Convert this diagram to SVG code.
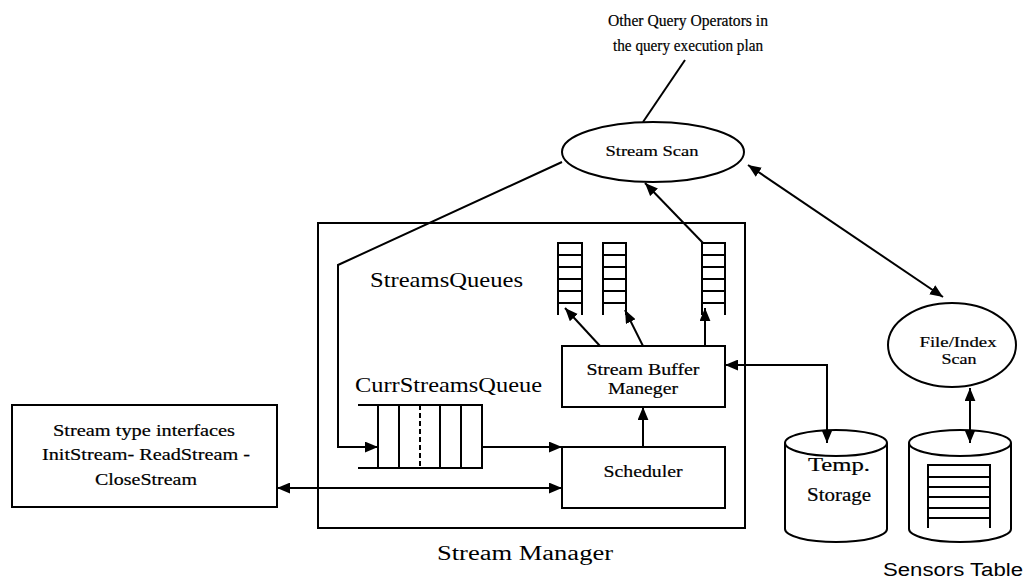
<svg xmlns="http://www.w3.org/2000/svg" width="1025" height="579" viewBox="0 0 1025 579">
<defs>
<style>
.ln{fill:none;stroke:#000;stroke-width:2}
.bx{fill:#fff;stroke:#000;stroke-width:2}
.t{font-family:"Liberation Serif",serif;fill:#000;text-anchor:middle;stroke:#000;stroke-width:0.2}
.l{font-size:22px;text-anchor:start;stroke:none}
.big{stroke:none}
</style>
<marker id="ah" viewBox="0 0 12 10" refX="12" refY="5" markerWidth="13" markerHeight="11" markerUnits="userSpaceOnUse" orient="auto-start-reverse">
<path d="M0,0 L12,5 L0,10 z" fill="#000"/>
</marker>
</defs>
<rect width="1025" height="579" fill="#fff"/>

<g id="stream-manager">
<rect class="ln" x="318" y="223" width="427" height="305"/>
<text class="t big" x="525" y="560" font-size="20" textLength="176" lengthAdjust="spacingAndGlyphs">Stream Manager</text>
</g>

<g id="other-ops">
<text class="t" x="688" y="26" font-size="16" textLength="160" lengthAdjust="spacingAndGlyphs">Other Query Operators in</text>
<text class="t" x="688" y="51" font-size="16" textLength="150" lengthAdjust="spacingAndGlyphs">the query execution plan</text>
</g>

<g id="stream-scan">
<ellipse class="bx" cx="653" cy="152" rx="91" ry="30"/>
<text class="t" x="652" y="156" font-size="15" textLength="93" lengthAdjust="spacingAndGlyphs">Stream Scan</text>
</g>

<g id="file-index-scan">
<ellipse class="bx" cx="952" cy="345" rx="64" ry="42"/>
<text class="t" x="958" y="347" font-size="14" textLength="77" lengthAdjust="spacingAndGlyphs">File/Index</text>
<text class="t" x="959" y="364" font-size="14" textLength="35" lengthAdjust="spacingAndGlyphs">Scan</text>
</g>

<g id="streams-queues">
<text class="t l" x="370" y="287" textLength="153" lengthAdjust="spacingAndGlyphs">StreamsQueues</text>
<g class="ln">
<path d="M558,315 V243 H582 V315 M558,255 H582 M558,267 H582 M558,279 H582 M558,291 H582 M558,303 H582"/>
<path d="M603,315 V243 H626 V315 M603,255 H626 M603,267 H626 M603,279 H626 M603,291 H626 M603,303 H626"/>
<path d="M702,315 V243 H725 V315 M702,255 H725 M702,267 H725 M702,279 H725 M702,291 H725 M702,303 H725"/>
</g>
</g>

<g id="curr-streams-queue">
<text class="t l" x="355" y="392" textLength="187" lengthAdjust="spacingAndGlyphs">CurrStreamsQueue</text>
<path class="ln" d="M358,405 H482 V468 H358 M378,405 V468 M399,405 V468 M440,405 V468 M461,405 V468"/>
<path class="ln" d="M420,405 V468" stroke-dasharray="5,3"/>
</g>

<g id="stream-buffer-manager">
<rect class="bx" x="562" y="346" width="163" height="61"/>
<text class="t" x="643" y="375" font-size="17" textLength="113" lengthAdjust="spacingAndGlyphs">Stream Buffer</text>
<text class="t" x="643" y="394" font-size="17" textLength="70" lengthAdjust="spacingAndGlyphs">Maneger</text>
</g>

<g id="scheduler">
<rect class="bx" x="562" y="447" width="163" height="61"/>
<text class="t" x="643" y="477" font-size="17" textLength="79" lengthAdjust="spacingAndGlyphs">Scheduler</text>
</g>

<g id="stream-type-interfaces">
<rect class="bx" x="12" y="405" width="265" height="102"/>
<text class="t" x="144" y="436" font-size="17" textLength="182" lengthAdjust="spacingAndGlyphs">Stream type interfaces</text>
<text class="t" x="146" y="460" font-size="17" textLength="208" lengthAdjust="spacingAndGlyphs">InitStream- ReadStream -</text>
<text class="t" x="146" y="485" font-size="17" textLength="102" lengthAdjust="spacingAndGlyphs">CloseStream</text>
</g>

<g id="temp-storage">
<path class="bx" d="M785,443 V529 A51,13 0 0 0 887,529 V443"/>
<ellipse class="bx" cx="836" cy="443" rx="51" ry="13"/>
<text class="t" x="839" y="471" font-size="18" textLength="62" lengthAdjust="spacingAndGlyphs">Temp.</text>
<text class="t" x="839" y="501" font-size="18" textLength="64" lengthAdjust="spacingAndGlyphs">Storage</text>
</g>

<g id="sensors-table">
<path class="bx" d="M909,443 V529 A51,13 0 0 0 1011,529 V443"/>
<ellipse class="bx" cx="960" cy="443" rx="51" ry="13"/>
<path class="ln" d="M928,528 V465 H990 V528 M928,477 H990 M928,487 H990 M928,497 H990 M928,508 H990 M928,518 H990"/>
<text x="883" y="576" font-family="Liberation Sans, sans-serif" font-size="18" textLength="140" lengthAdjust="spacingAndGlyphs">Sensors  Table</text>
</g>

<g id="connectors" class="ln">
<path d="M685,60 L643,122"/>
<path d="M562,162 L338,265 V447 H378" marker-end="url(#ah)"/>
<path d="M482,447 H562" marker-end="url(#ah)"/>
<path d="M277,488 H562" marker-start="url(#ah)" marker-end="url(#ah)"/>
<path d="M643,447 V407" marker-end="url(#ah)"/>
<path d="M600,346 L565,308" marker-end="url(#ah)"/>
<path d="M643,346 L625,310" marker-end="url(#ah)"/>
<path d="M705,346 V308" marker-end="url(#ah)"/>
<path d="M703,243 L645,183" marker-end="url(#ah)"/>
<path d="M748,165 L943,297" marker-start="url(#ah)" marker-end="url(#ah)"/>
<path d="M725,365 H827 V443" marker-start="url(#ah)" marker-end="url(#ah)"/>
<path d="M970,388 V443" marker-start="url(#ah)" marker-end="url(#ah)"/>
</g>
</svg>
